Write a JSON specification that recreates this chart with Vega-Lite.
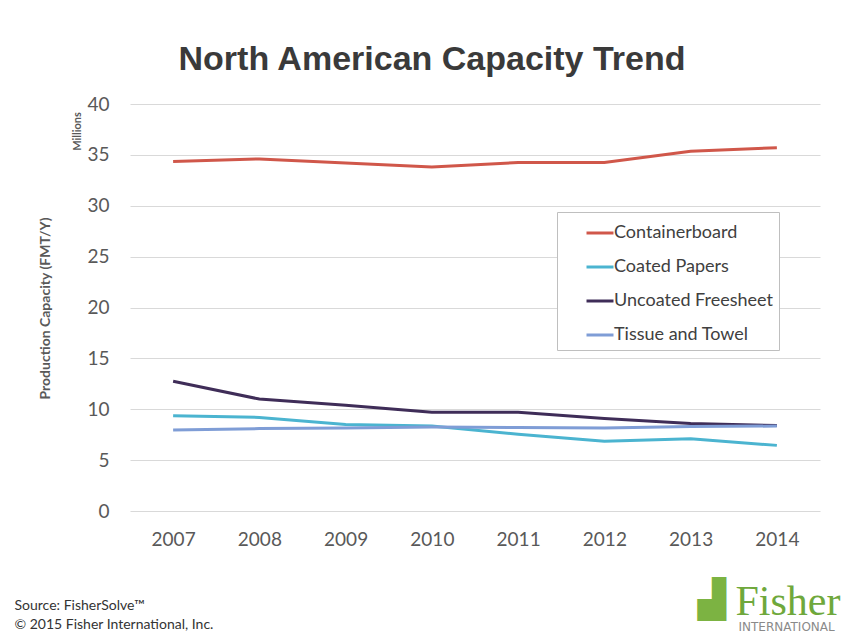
{
  "$schema": "https://vega.github.io/schema/vega-lite/v6.json",
  "width": 690,
  "height": 407,
  "autosize": {"type": "none"},
  "padding": {"left": 130, "top": 104, "right": 38, "bottom": 122},
  "background": "white",
  "title": {
    "text": "North American Capacity Trend",
    "font": "Liberation Sans",
    "fontSize": 34,
    "fontWeight": "bold",
    "color": "#3a3a3a",
    "anchor": "middle",
    "dx": -43,
    "offset": 18
  },
  "config": {
    "view": {"stroke": null},
    "axis": {"domain": false, "ticks": false, "grid": false}
  },
  "layer": [
    {
      "data": {
        "values": [
          {"year": "2007", "series": "Containerboard", "value": 34.35},
          {"year": "2008", "series": "Containerboard", "value": 34.6},
          {"year": "2009", "series": "Containerboard", "value": 34.2},
          {"year": "2010", "series": "Containerboard", "value": 33.8},
          {"year": "2011", "series": "Containerboard", "value": 34.25},
          {"year": "2012", "series": "Containerboard", "value": 34.25},
          {"year": "2013", "series": "Containerboard", "value": 35.35},
          {"year": "2014", "series": "Containerboard", "value": 35.7},
          {"year": "2007", "series": "Coated Papers", "value": 9.35},
          {"year": "2008", "series": "Coated Papers", "value": 9.2},
          {"year": "2009", "series": "Coated Papers", "value": 8.5},
          {"year": "2010", "series": "Coated Papers", "value": 8.35},
          {"year": "2011", "series": "Coated Papers", "value": 7.55},
          {"year": "2012", "series": "Coated Papers", "value": 6.85},
          {"year": "2013", "series": "Coated Papers", "value": 7.1},
          {"year": "2014", "series": "Coated Papers", "value": 6.45},
          {"year": "2007", "series": "Uncoated Freesheet", "value": 12.75},
          {"year": "2008", "series": "Uncoated Freesheet", "value": 11.0},
          {"year": "2009", "series": "Uncoated Freesheet", "value": 10.4},
          {"year": "2010", "series": "Uncoated Freesheet", "value": 9.7},
          {"year": "2011", "series": "Uncoated Freesheet", "value": 9.7},
          {"year": "2012", "series": "Uncoated Freesheet", "value": 9.1},
          {"year": "2013", "series": "Uncoated Freesheet", "value": 8.6},
          {"year": "2014", "series": "Uncoated Freesheet", "value": 8.4},
          {"year": "2007", "series": "Tissue and Towel", "value": 7.95},
          {"year": "2008", "series": "Tissue and Towel", "value": 8.1},
          {"year": "2009", "series": "Tissue and Towel", "value": 8.15},
          {"year": "2010", "series": "Tissue and Towel", "value": 8.25},
          {"year": "2011", "series": "Tissue and Towel", "value": 8.2},
          {"year": "2012", "series": "Tissue and Towel", "value": 8.15},
          {"year": "2013", "series": "Tissue and Towel", "value": 8.3},
          {"year": "2014", "series": "Tissue and Towel", "value": 8.35}
        ]
      },
      "mark": {"type": "line", "strokeWidth": 3},
      "encoding": {
        "x": {
          "field": "year",
          "type": "ordinal",
          "scale": {"type": "point", "padding": 0.5},
          "axis": {
            "orient": "bottom",
            "labelAngle": 0,
            "labelFont": "Lato",
            "labelFontSize": 19,
            "labelColor": "#595959",
            "labelPadding": 19,
            "title": ["Source: FisherSolve™", "© 2015 Fisher International, Inc."],
            "titleFont": "Lato",
            "titleFontSize": 14,
            "titleFontWeight": "normal",
            "titleColor": "#333333",
            "titleAlign": "left",
            "titleBaseline": "alphabetic",
            "titleLineHeight": 19,
            "titleX": -116,
            "titleY": 98
          }
        },
        "y": {
          "field": "value",
          "type": "quantitative",
          "scale": {"domain": [0, 40], "nice": false},
          "axis": {
            "orient": "left",
            "values": [0, 5, 10, 15, 20, 25, 30, 35, 40],
            "grid": true,
            "gridColor": "#d9d9d9",
            "labelFont": "Lato",
            "labelFontSize": 19,
            "labelColor": "#595959",
            "labelPadding": 21,
            "title": "Production Capacity (FMT/Y)",
            "titleFont": "Lato",
            "titleFontSize": 14,
            "titleFontWeight": "bold",
            "titleColor": "#595959",
            "titleAngle": -90,
            "titleAlign": "center",
            "titleBaseline": "middle",
            "titleX": -85,
            "titleY": 204
          }
        },
        "color": {
          "field": "series",
          "type": "nominal",
          "scale": {
            "domain": ["Containerboard", "Coated Papers", "Uncoated Freesheet", "Tissue and Towel"],
            "range": ["#d0574a", "#4bb4d0", "#3f2d58", "#7f9dd6"]
          },
          "legend": {
            "orient": "none",
            "legendX": 427,
            "legendY": 108,
            "title": null,
            "symbolType": "stroke",
            "symbolSize": 729,
            "symbolStrokeWidth": 3,
            "labelFont": "Lato",
            "labelFontSize": 18,
            "labelColor": "#404040",
            "labelOffset": -1,
            "labelLimit": 400,
            "padding": 6,
            "rowPadding": 10,
            "symbolOffset": 22,
            "fillColor": "white",
            "strokeColor": "#bfbfbf",
            "labelExpr": "datum.label + '\u00a0\u00a0\u00a0\u00a0\u00a0\u00a0\u00a0'"
          }
        }
      }
    },
    {
      "data": {"values": [{}]},
      "mark": {"type": "rule", "opacity": 0},
      "encoding": {
        "y": {
          "datum": 0,
          "type": "quantitative",
          "axis": {
            "orient": "right",
            "labels": false,
            "title": "Fisher",
            "titleFont": "Liberation Serif",
            "titleFontSize": 42,
            "titleFontWeight": "normal",
            "titleColor": "#6fa83c",
            "titleAngle": 0,
            "titleAlign": "left",
            "titleBaseline": "alphabetic",
            "titleX": -85,
            "titleY": 510
          }
        }
      }
    },
    {
      "data": {"values": [{}]},
      "mark": {"type": "rule", "opacity": 0},
      "encoding": {
        "y": {
          "datum": 0,
          "type": "quantitative",
          "axis": {
            "orient": "right",
            "labels": false,
            "title": "▟",
            "titleFont": "DejaVu Sans",
            "titleFontSize": 37,
            "titleFontWeight": "normal",
            "titleColor": "#7cb342",
            "titleAngle": 0,
            "titleAlign": "left",
            "titleBaseline": "alphabetic",
            "titleX": -123,
            "titleY": 507
          }
        }
      }
    },
    {
      "data": {"values": [{}]},
      "mark": {"type": "rule", "opacity": 0},
      "encoding": {
        "x": {
          "datum": "2014",
          "type": "ordinal",
          "axis": {
            "orient": "top",
            "labels": false,
            "title": "INTERNATIONAL",
            "titleFont": "DejaVu Sans",
            "titleFontSize": 12,
            "titleFontWeight": "normal",
            "titleColor": "#8a8a8a",
            "titleAlign": "left",
            "titleBaseline": "alphabetic",
            "titleX": 608,
            "titleY": 526
          }
        }
      }
    },
    {
      "data": {"values": [{}]},
      "mark": {"type": "rule", "opacity": 0},
      "encoding": {
        "y": {
          "datum": 0,
          "type": "quantitative",
          "axis": {
            "orient": "left",
            "labels": false,
            "title": "Millions",
            "titleFont": "Lato",
            "titleFontSize": 11,
            "titleFontWeight": "bold",
            "titleColor": "#595959",
            "titleAngle": -90,
            "titleAlign": "center",
            "titleBaseline": "middle",
            "titleX": -53,
            "titleY": 27
          }
        }
      }
    }
  ],
  "resolve": {"axis": {"x": "independent", "y": "independent"}}
}
